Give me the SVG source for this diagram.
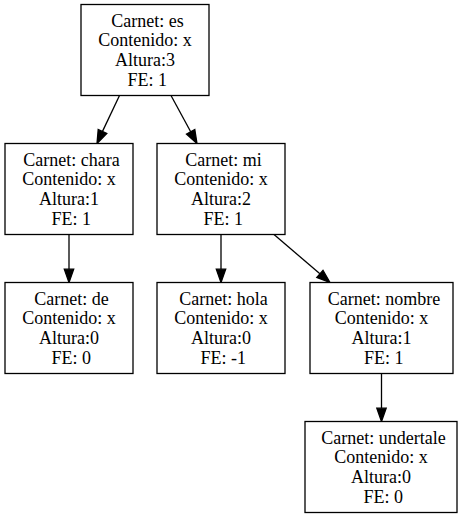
<svg xmlns="http://www.w3.org/2000/svg" width="463" height="517" viewBox="0 0 463 517">
<style>
.bg{fill:#fff}
.box{fill:#fff;stroke:#000;stroke-width:1.3}
.lbl text{font-family:"Liberation Serif","Times New Roman",serif;font-size:18px;text-anchor:middle;fill:#000}
.edge line{stroke:#000;stroke-width:1.3}
.edge polygon{fill:#000;stroke:#000;stroke-width:1.3}
</style>
<rect class="bg" x="0" y="0" width="463" height="517"/>
<g id="connectors" class="edge">
<line x1="119.5" y1="95.5" x2="102.5" y2="131.4"/>
<polygon points="97,143.5 106.8,133.4 98.2,129.4"/>
<line x1="171" y1="95.5" x2="190.7" y2="131.8"/>
<polygon points="197,143.5 194.8,129.6 186.5,134.1"/>
<line x1="69" y1="234.5" x2="69" y2="269.2"/>
<polygon points="69,282.5 64.3,269.2 73.7,269.2"/>
<line x1="221" y1="234.5" x2="221" y2="269.2"/>
<polygon points="221,282.5 216.3,269.2 225.7,269.2"/>
<line x1="274" y1="234.5" x2="319.9" y2="273.8"/>
<polygon points="330,282.5 323,270.3 316.8,277.4"/>
<line x1="381.5" y1="373.5" x2="381.5" y2="408.2"/>
<polygon points="381.5,421.5 376.8,408.2 386.2,408.2"/>
</g>
<g id="node-es" class="lbl">
<rect class="box" x="81" y="4.5" width="128" height="91"/>
<text x="147.5" y="26.5">Carnet: es</text>
<text x="145" y="46.3">Contenido: x</text>
<text x="145" y="66.1">Altura:3</text>
<text x="147.3" y="85.9">FE: 1</text>
</g>
<g id="node-chara" class="lbl">
<rect class="box" x="5" y="143.5" width="128" height="91"/>
<text x="71.5" y="165.5">Carnet: chara</text>
<text x="69" y="185.3">Contenido: x</text>
<text x="69" y="205.1">Altura:1</text>
<text x="71.3" y="224.9">FE: 1</text>
</g>
<g id="node-mi" class="lbl">
<rect class="box" x="157" y="143.5" width="128" height="91"/>
<text x="223.5" y="165.5">Carnet: mi</text>
<text x="221" y="185.3">Contenido: x</text>
<text x="221" y="205.1">Altura:2</text>
<text x="223.3" y="224.9">FE: 1</text>
</g>
<g id="node-de" class="lbl">
<rect class="box" x="5" y="282.5" width="128" height="91"/>
<text x="71.5" y="304.5">Carnet: de</text>
<text x="69" y="324.3">Contenido: x</text>
<text x="69" y="344.1">Altura:0</text>
<text x="71.3" y="363.9">FE: 0</text>
</g>
<g id="node-hola" class="lbl">
<rect class="box" x="157" y="282.5" width="128" height="91"/>
<text x="223.5" y="304.5">Carnet: hola</text>
<text x="221" y="324.3">Contenido: x</text>
<text x="221" y="344.1">Altura:0</text>
<text x="223.3" y="363.9">FE: -1</text>
</g>
<g id="node-nombre" class="lbl">
<rect class="box" x="310" y="282.5" width="143" height="91"/>
<text x="384" y="304.5">Carnet: nombre</text>
<text x="381.5" y="324.3">Contenido: x</text>
<text x="381.5" y="344.1">Altura:1</text>
<text x="383.8" y="363.9">FE: 1</text>
</g>
<g id="node-undertale" class="lbl">
<rect class="box" x="305" y="421.5" width="152" height="91"/>
<text x="383.5" y="443.5">Carnet: undertale</text>
<text x="381" y="463.3">Contenido: x</text>
<text x="381" y="483.1">Altura:0</text>
<text x="383.3" y="502.9">FE: 0</text>
</g>
</svg>
